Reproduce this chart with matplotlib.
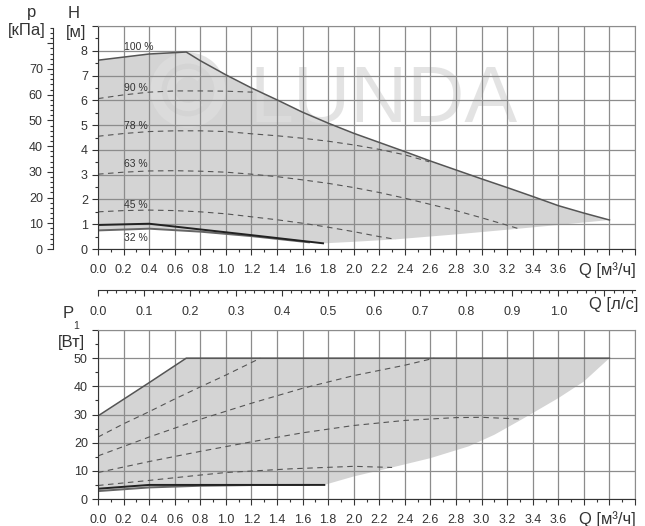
import numpy as np
import matplotlib.pyplot as plt
from matplotlib.ticker import MultipleLocator, FuncFormatter
from matplotlib.patches import Circle, Arc

plt.rcParams['font.family'] = ['Liberation Sans', 'DejaVu Sans']

# ---- head curves H [m] vs Q [m3/h] ----
q_h100 = [0.0, 0.4, 0.69, 0.8, 1.0, 1.2, 1.4, 1.6, 1.8, 2.0, 2.2, 2.4, 2.6, 2.8, 3.0, 3.2, 3.4, 3.6, 3.8, 4.0]
h100 = [7.62, 7.87, 7.95, 7.6, 7.03, 6.5, 6.02, 5.52, 5.08, 4.67, 4.3, 3.93, 3.55, 3.19, 2.83, 2.48, 2.12, 1.75, 1.45, 1.17]

q_h90 = [0.0, 0.2, 0.4, 0.6, 0.8, 1.0, 1.21]
h90 = [6.07, 6.22, 6.33, 6.38, 6.38, 6.37, 6.33]
q_h78 = [0.0, 0.2, 0.4, 0.6, 0.8, 1.0, 1.2, 1.4, 1.6, 1.8, 2.0, 2.2, 2.4, 2.59]
h78 = [4.55, 4.66, 4.74, 4.77, 4.77, 4.74, 4.65, 4.57, 4.47, 4.35, 4.2, 4.02, 3.8, 3.52]
q_h63 = [0.0, 0.2, 0.4, 0.6, 0.8, 1.0, 1.2, 1.4, 1.6, 1.8, 2.0, 2.2, 2.4, 2.6, 2.8, 3.0, 3.2, 3.29]
h63 = [3.02, 3.1, 3.15, 3.16, 3.14, 3.1, 3.02, 2.92, 2.79, 2.65, 2.48, 2.28, 2.05, 1.8, 1.55, 1.26, 0.96, 0.82]
q_h45 = [0.0, 0.2, 0.4, 0.6, 0.8, 1.0, 1.2, 1.4, 1.6, 1.8, 2.0, 2.2, 2.33]
h45 = [1.5, 1.55, 1.57, 1.55, 1.5, 1.42, 1.3, 1.18, 1.04, 0.88, 0.7, 0.5, 0.39]

q_hmin_a = [0.0, 0.4, 0.8, 1.2, 1.76]          # dark line
hmin_a = [0.97, 1.02, 0.79, 0.56, 0.23]
q_hmin_b = [0.0, 0.4, 0.8, 1.2, 1.65]          # grey line (32 %)
hmin_b = [0.75, 0.82, 0.7, 0.52, 0.27]

q_hedge = [1.77, 2.0, 2.33, 2.8, 3.29, 3.6, 4.0]   # lower edge of field
hedge = [0.23, 0.29, 0.39, 0.59, 0.82, 0.97, 1.17]

pct_labels = ['100 %', '90 %', '78 %', '63 %', '45 %', '32 %']

# ---- power curves P1 [W] vs Q [m3/h] ----
q_p100 = [0.0, 0.4, 0.69, 4.0]
p100 = [29.5, 41.3, 50.0, 50.0]
q_p90 = [0.0, 0.2, 0.4, 0.6, 0.8, 1.0, 1.27]
p90 = [22.0, 26.7, 31.0, 35.5, 39.8, 44.0, 50.0]
q_p78 = [0.0, 0.4, 0.8, 1.2, 1.6, 2.0, 2.4, 2.63]
p78 = [15.3, 22.0, 28.3, 34.0, 39.3, 43.8, 47.5, 50.0]
q_p63 = [0.0, 0.4, 0.8, 1.2, 1.6, 2.0, 2.4, 2.8, 3.0, 3.3]
p63 = [9.4, 13.3, 16.9, 20.3, 23.5, 26.1, 27.9, 28.9, 29.0, 28.4]
q_p45 = [0.0, 0.4, 0.8, 1.0, 1.5, 2.0, 2.3]
p45 = [4.8, 6.6, 8.5, 9.4, 10.7, 11.6, 11.2]
q_pmin_a = [0.0, 0.4, 1.77]
pmin_a = [3.65, 5.0, 5.0]
q_pmin_b = [0.0, 0.4, 0.8, 1.2, 1.65]
pmin_b = [2.8, 4.1, 4.7, 4.95, 5.0]
q_pedge = [1.77, 2.0, 2.3, 2.6, 2.9, 3.1, 3.32, 3.6, 3.8, 4.0]
pedge = [5.0, 8.0, 11.2, 14.5, 18.7, 22.8, 28.4, 35.8, 41.7, 50.0]

W, H = 645, 526
SHADE = '#d4d4d4'
GRID = '#8c8c8c'
DARK = '#333333'
CURVE = '#555555'


def rect(l, t, r, b):
    return [l / W, 1 - b / H, (r - l) / W, (b - t) / H]


def qfmt(v, pos):
    return f'{v:.1f}' if v < 3.65 else ''


def style_axes(ax):
    ax.set_axisbelow('line')
    ax.grid(True, which='major', color=GRID, lw=0.9)
    for s in ['top', 'right']:
        ax.spines[s].set_color(GRID)
    for s in ['left', 'bottom']:
        ax.spines[s].set_color(DARK)
    ax.tick_params(which='major', length=4.3, width=0.8, color=DARK,
                   labelsize=9, labelcolor=DARK, pad=3)
    ax.tick_params(which='minor', length=2.5, width=0.8, color=DARK)
    ax.tick_params(axis='x', which='major', pad=6.5)
    ax.xaxis.set_major_locator(MultipleLocator(0.2))
    ax.xaxis.set_minor_locator(MultipleLocator(0.1))
    ax.xaxis.set_major_formatter(FuncFormatter(qfmt))
    ax.set_xlim(0, 4.2)


fig = plt.figure(figsize=(6.45, 5.26), dpi=100)

# ---------- top: head ----------
ax1 = fig.add_axes(rect(98, 26, 635, 249))
style_axes(ax1)
ax1.set_ylim(0, 9)
ax1.yaxis.set_major_locator(MultipleLocator(1))
ax1.yaxis.set_minor_locator(MultipleLocator(0.5))
ax1.yaxis.set_major_formatter(FuncFormatter(lambda v, p: f'{v:.0f}' if v < 8.5 else ''))

fq = q_h100 + q_hedge[::-1] + q_hmin_b[::-1]
fh = h100 + hedge[::-1] + hmin_b[::-1]
ax1.fill(fq, fh, color=SHADE, lw=0, zorder=1)

# watermark
wm = '#dddddd'
ax1.text(250 / W, 1 - 122 / H, 'LUNDA', transform=fig.transFigure, fontsize=57,
         color=wm, alpha=0.8, ha='left', va='baseline', zorder=1.2)
ax1.add_patch(Circle((1.88, 5.26 - 0.90), 0.32, transform=fig.dpi_scale_trans,
                     fill=False, ec=wm, lw=8, alpha=0.8, zorder=1.2))
ax1.add_patch(Arc((1.88, 5.26 - 0.90), 0.34, 0.34, theta1=45, theta2=315,
                  transform=fig.dpi_scale_trans, ec=wm, lw=6, alpha=0.8, zorder=1.2))

ax1.plot(q_h100, h100, color=CURVE, lw=1.1)
for q, h in [(q_h90, h90), (q_h78, h78), (q_h63, h63), (q_h45, h45)]:
    ax1.plot(q, h, color=CURVE, lw=0.8, dashes=(5, 4))
ax1.plot(q_hmin_b, hmin_b, color='#666666', lw=1.4)
ax1.plot(q_hmin_a, hmin_a, color='#222222', lw=1.4)

for lab, y in zip(pct_labels, [8.15, 6.5, 4.96, 3.43, 1.78, 0.44]):
    ax1.text(0.2, y, lab, fontsize=7.5, color=DARK, ha='left', va='center', zorder=3)

# kPa axis
axp = fig.add_axes(rect(53, 26, 54, 249))
axp.set_ylim(0, 86.7)
axp.set_xticks([])
for s in ['top', 'right', 'bottom']:
    axp.spines[s].set_visible(False)
axp.spines['left'].set_color(DARK)
axp.spines['left'].set_bounds(0, 86)
axp.patch.set_visible(False)
axp.yaxis.set_major_locator(MultipleLocator(10))
axp.yaxis.set_minor_locator(MultipleLocator(2))
axp.yaxis.set_major_formatter(FuncFormatter(lambda v, p: f'{v:.0f}' if v < 75 else ''))
axp.tick_params(which='major', length=4.3, width=0.8, color=DARK, labelsize=9,
                labelcolor=DARK, pad=3)
axp.tick_params(which='minor', length=2.5, width=0.8, color=DARK)

# l/s axis
axq = fig.add_axes(rect(98, 289, 635, 290))
axq.set_xlim(0, 4.2 / 3.6)
axq.set_yticks([])
for s in ['top', 'right', 'left']:
    axq.spines[s].set_visible(False)
axq.spines['bottom'].set_color(DARK)
axq.patch.set_visible(False)
axq.xaxis.set_major_locator(MultipleLocator(0.1))
axq.xaxis.set_minor_locator(MultipleLocator(0.02))
axq.xaxis.set_major_formatter(FuncFormatter(lambda v, p: f'{v:.1f}' if v < 1.05 else ''))
axq.tick_params(which='major', length=4.3, width=0.8, color=DARK, labelsize=9,
                labelcolor=DARK, pad=7)
axq.tick_params(which='minor', length=2.5, width=0.8, color=DARK)

# ---------- bottom: power ----------
ax2 = fig.add_axes(rect(98, 330, 635, 499))
style_axes(ax2)
ax2.set_ylim(0, 60)
ax2.yaxis.set_major_locator(MultipleLocator(10))
ax2.yaxis.set_minor_locator(MultipleLocator(5))
ax2.yaxis.set_major_formatter(FuncFormatter(lambda v, p: f'{v:.0f}' if v < 55 else ''))

fq2 = q_p100 + q_pedge[::-1] + q_pmin_b[::-1]
fp2 = p100 + pedge[::-1] + pmin_b[::-1]
ax2.fill(fq2, fp2, color=SHADE, lw=0, zorder=1)
ax2.plot(q_p100, p100, color=CURVE, lw=1.1)
for q, p in [(q_p90, p90), (q_p78, p78), (q_p63, p63), (q_p45, p45)]:
    ax2.plot(q, p, color=CURVE, lw=0.8, dashes=(5, 4))
ax2.plot(q_pmin_b, pmin_b, color='#666666', lw=1.4)
ax2.plot(q_pmin_a, pmin_a, color='#222222', lw=1.4)

# axis titles
fs = 12
fig.text(32 / W, 1 - 12 / H, 'p', fontsize=fs, color=DARK, ha='center', va='center')
fig.text(27 / W, 1 - 30 / H, '[кПа]', fontsize=fs, color=DARK, ha='center', va='center')
fig.text(74 / W, 1 - 13 / H, 'H', fontsize=fs, color=DARK, ha='center', va='center')
fig.text(76 / W, 1 - 32 / H, '[м]', fontsize=fs, color=DARK, ha='center', va='center')
fig.text(607 / W, 1 - 270 / H, 'Q [м³/ч]', fontsize=fs, color=DARK, ha='center', va='center')
fig.text(614 / W, 1 - 304 / H, 'Q [л/с]', fontsize=fs, color=DARK, ha='center', va='center')
fig.text(607 / W, 1 - 519 / H, 'Q [м³/ч]', fontsize=fs, color=DARK, ha='center', va='center')
fig.text(68 / W, 1 - 313 / H, 'P', fontsize=fs, color=DARK, ha='center', va='center')
fig.text(76 / W, 1 - 326 / H, '1', fontsize=7.5, color=DARK, ha='center', va='center')
fig.text(71 / W, 1 - 342 / H, '[Вт]', fontsize=fs, color=DARK, ha='center', va='center')

fig.savefig('out.png', dpi=100)
